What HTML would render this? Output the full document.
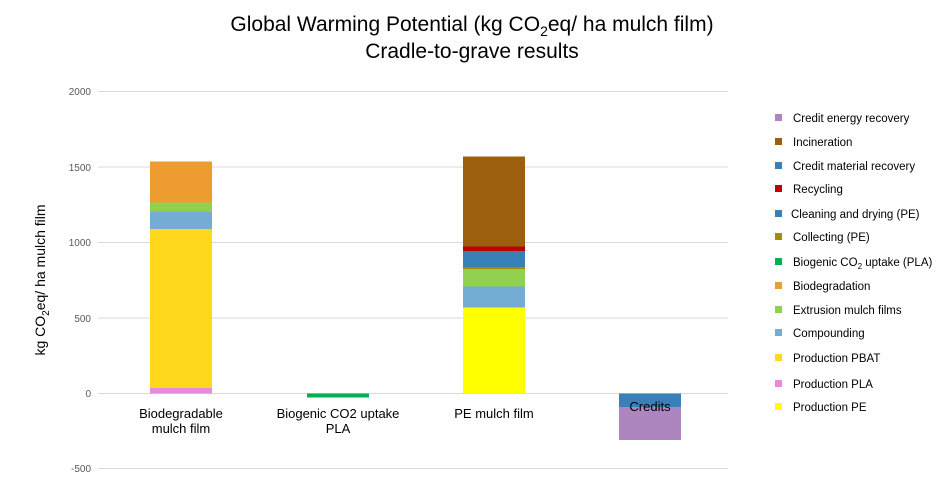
<!DOCTYPE html>
<html><head><meta charset="utf-8"><style>
body{margin:0;background:#fff;}
svg{display:block;font-family:"Liberation Sans",Arial,sans-serif;}
</style></head><body>
<svg width="945" height="495" viewBox="0 0 945 495">
<text x="472" y="31" font-size="21" text-anchor="middle">Global Warming Potential (kg CO<tspan font-size="14" dy="5">2</tspan><tspan dy="-5">eq/ ha mulch film)</tspan></text>
<text x="472" y="58" font-size="21" text-anchor="middle">Cradle-to-grave results</text>
<g stroke="#d9d9d9" stroke-width="1">
<line x1="98" x2="728" y1="91.5" y2="91.5"/>
<line x1="98" x2="728" y1="167" y2="167"/>
<line x1="98" x2="728" y1="242.5" y2="242.5"/>
<line x1="98" x2="728" y1="318" y2="318"/>
<line x1="98" x2="728" y1="393.5" y2="393.5"/>
<line x1="98" x2="728" y1="468.5" y2="468.5"/>
</g>
<g font-size="10" fill="#595959" text-anchor="end">
<text x="91" y="95">2000</text><text x="91" y="171">1500</text><text x="91" y="246">1000</text>
<text x="91" y="322">500</text><text x="91" y="397">0</text><text x="91" y="472">-500</text>
</g>
<text transform="translate(45,280) rotate(-90)" font-size="14" text-anchor="middle">kg CO<tspan font-size="10" dy="4">2</tspan><tspan dy="-4">eq/ ha mulch film</tspan></text>
<!-- bar 1 -->
<rect x="150" y="161.5" width="62" height="41" fill="#ed9d30"/>
<rect x="150" y="202.5" width="62" height="9" fill="#92d050"/>
<rect x="150" y="211.5" width="62" height="17.5" fill="#75acd3"/>
<rect x="150" y="229" width="62" height="159" fill="#ffd71c"/>
<rect x="150" y="388" width="62" height="5.5" fill="#e68ae0"/>
<!-- bar 2 -->
<rect x="307" y="393.5" width="62" height="4" fill="#00b050"/>
<!-- bar 3 -->
<rect x="463" y="156.5" width="62" height="90" fill="#9c5f0e"/>
<rect x="463" y="246.5" width="62" height="4.5" fill="#c00000"/>
<rect x="463" y="251" width="62" height="16" fill="#3a80b8"/>
<rect x="463" y="267" width="62" height="2" fill="#a09000"/>
<rect x="463" y="269" width="62" height="17.5" fill="#92d050"/>
<rect x="463" y="286.5" width="62" height="21" fill="#75acd3"/>
<rect x="463" y="307.5" width="62" height="86" fill="#ffff00"/>
<!-- bar 4 -->
<rect x="619" y="393.5" width="62" height="13.5" fill="#3a80b8"/>
<rect x="619" y="407" width="62" height="33" fill="#ad86c0"/>
<g font-size="13" text-anchor="middle" fill="#000">
<text x="181" y="418">Biodegradable</text><text x="181" y="433">mulch film</text>
<text x="338" y="418">Biogenic CO2 uptake</text><text x="338" y="433">PLA</text>
<text x="494" y="418">PE mulch film</text>
<text x="650" y="411">Credits</text>
</g>
<g font-size="11.5">
<rect x="775" y="114" width="7" height="7" fill="#ad86c0"/><text x="793" y="122">Credit energy recovery</text>
<rect x="775" y="138" width="7" height="7" fill="#9c5f0e"/><text x="793" y="146">Incineration</text>
<rect x="775" y="162" width="7" height="7" fill="#3a80b8"/><text x="793" y="170">Credit material recovery</text>
<rect x="775" y="185" width="7" height="7" fill="#c00000"/><text x="793" y="193">Recycling</text>
<rect x="775" y="210" width="7" height="7" fill="#3a80b8"/><text x="791" y="218">Cleaning and drying (PE)</text>
<rect x="775" y="233" width="7" height="7" fill="#a09000"/><text x="793" y="241">Collecting (PE)</text>
<rect x="775" y="258" width="7" height="7" fill="#00b050"/><text x="793" y="266">Biogenic CO<tspan font-size="8" dy="3">2</tspan><tspan dy="-3"> uptake (PLA)</tspan></text>
<rect x="775" y="282" width="7" height="7" fill="#ed9d30"/><text x="793" y="290">Biodegradation</text>
<rect x="775" y="306" width="7" height="7" fill="#92d050"/><text x="793" y="314">Extrusion mulch films</text>
<rect x="775" y="329" width="7" height="7" fill="#75acd3"/><text x="793" y="337">Compounding</text>
<rect x="775" y="354" width="7" height="7" fill="#ffd71c"/><text x="793" y="362">Production PBAT</text>
<rect x="775" y="380" width="7" height="7" fill="#e68ae0"/><text x="793" y="388">Production PLA</text>
<rect x="775" y="403" width="7" height="7" fill="#ffff00"/><text x="793" y="411">Production PE</text>
</g>
</svg>
</body></html>
